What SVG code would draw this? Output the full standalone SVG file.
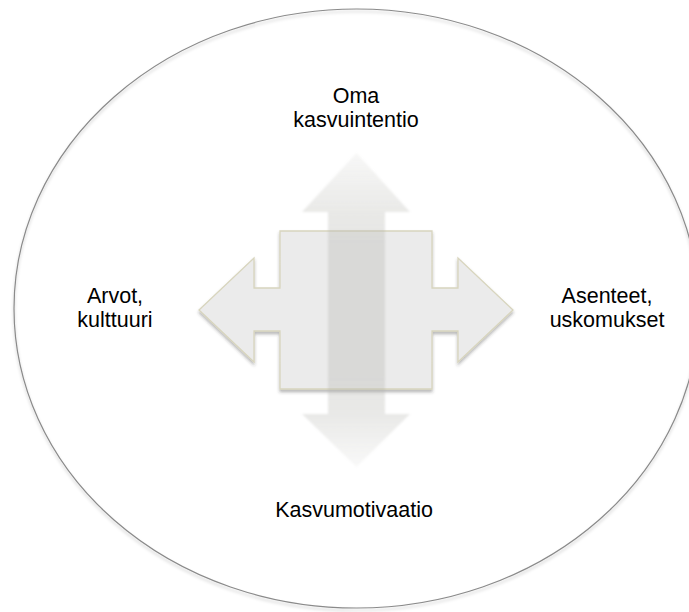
<svg xmlns="http://www.w3.org/2000/svg" width="689" height="612" viewBox="0 0 689 612">
  <defs>
    <filter id="ringShadow" x="-5%" y="-5%" width="110%" height="110%">
      <feDropShadow dx="0" dy="2.5" stdDeviation="1.8" flood-color="#000" flood-opacity="0.22"/>
    </filter>
    <filter id="crossShadow" x="-10%" y="-10%" width="120%" height="125%">
      <feDropShadow dx="0" dy="2.5" stdDeviation="1.5" flood-color="#333" flood-opacity="0.35"/>
    </filter>
    <filter id="soft" x="-10%" y="-10%" width="120%" height="120%">
      <feGaussianBlur stdDeviation="0.8"/>
    </filter>
    <linearGradient id="vGrad" gradientUnits="userSpaceOnUse" x1="0" y1="153" x2="0" y2="467">
      <stop offset="0" stop-color="#b4b4ae" stop-opacity="0.1"/>
      <stop offset="0.2" stop-color="#b4b4ae" stop-opacity="0.3"/>
      <stop offset="0.3" stop-color="#b4b4ae" stop-opacity="0.33"/>
      <stop offset="0.7" stop-color="#b4b4ae" stop-opacity="0.33"/>
      <stop offset="0.82" stop-color="#b4b4ae" stop-opacity="0.3"/>
      <stop offset="1" stop-color="#b4b4ae" stop-opacity="0.08"/>
    </linearGradient>
  </defs>
  <style>
    .lbl { font-family: "Liberation Sans", Arial, sans-serif; font-size: 21.5px; fill: #000; text-anchor: middle; }
  </style>
  <rect width="689" height="612" fill="#ffffff"/>

  <g id="ring">
    <ellipse cx="356.5" cy="308.5" rx="342.5" ry="299.5" fill="none" stroke="#8a8a8a" stroke-width="1.2" filter="url(#ringShadow)"/>
  </g>

  <g id="horizontal-arrow">
    <polygon points="280,231 432,231 432,288 458,288 458,258 513,310 458,362 458,331 432,331 432,389 280,389 280,331 254,331 254,362 199,310 254,258 254,288 280,288" fill="#ebebeb" stroke="#d8d5be" stroke-width="1.3" stroke-linejoin="miter" filter="url(#crossShadow)"/>
  </g>

  <g id="vertical-arrow">
    <polygon points="356.5,153 410,212 385,212 385,414 410,414 356.5,467 302,414 328,414 328,212 302,212" fill="url(#vGrad)" filter="url(#soft)"/>
  </g>

  <g id="label-top">
    <text class="lbl" x="356" y="103">Oma</text>
    <text class="lbl" x="356" y="127">kasvuintentio</text>
  </g>
  <g id="label-left">
    <text class="lbl" x="115" y="303">Arvot,</text>
    <text class="lbl" x="115" y="327">kulttuuri</text>
  </g>
  <g id="label-right">
    <text class="lbl" x="607" y="303">Asenteet,</text>
    <text class="lbl" x="607" y="327">uskomukset</text>
  </g>
  <g id="label-bottom">
    <text class="lbl" x="354" y="517">Kasvumotivaatio</text>
  </g>
</svg>
